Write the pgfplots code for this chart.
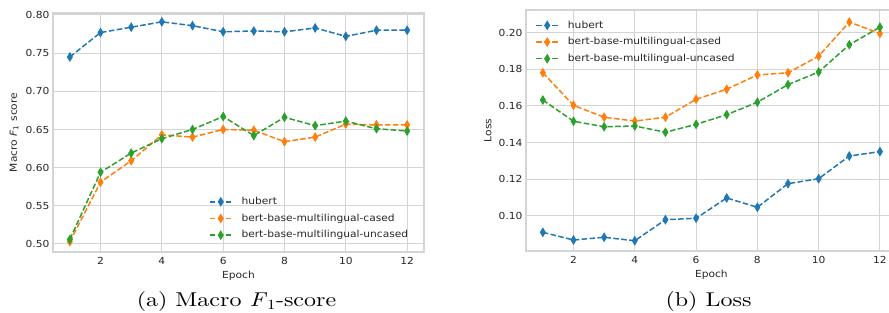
\documentclass[border=0pt]{standalone}
\usepackage{pgfplots}
\pgfplotsset{compat=1.18}
\usepackage{fontspec}
\newfontfamily\dejavu{DejaVu Sans}[FakeStretch=1.1]
\newfontfamily\capfont{lmroman10-regular.otf}[ItalicFont=lmroman10-italic.otf, FakeStretch=1.2]
\definecolor{tabblue}{HTML}{1F77B4}
\definecolor{taborange}{HTML}{FF7F0E}
\definecolor{tabgreen}{HTML}{2CA02C}
\definecolor{gridc}{HTML}{D4D4D4}
\definecolor{tickc}{HTML}{262626}
\newcommand{\sfont}{\dejavu\fontsize{9.7}{11}\selectfont}
\pgfplotsset{
  mystyle/.style={
    scale only axis,
    xmin=0.45, xmax=12.55,
    xtick={2,4,6,8,10,12},
    grid=major,
    major grid style={gridc, line width=1pt},
    axis line style={gridc, line width=1.25pt},
    major tick length=0pt,
    tick style={draw=none},
    /pgf/number format/assume math mode=true,
    ticklabel style={font=\sfont, text=tickc},
    xticklabel style={yshift=-1.5pt},
    label style={font=\sfont, text=tickc},
    xlabel style={at={(axis description cs:0.5,-0.1)}, anchor=center},
    legend style={draw=none, fill=none, font=\sfont, text=tickc, inner sep=0pt,
      row sep=5.2pt, column sep=8pt, nodes={inner sep=1pt, text height=7.5pt, text depth=2pt}},
    legend cell align=left,
    legend image code/.code={\draw[mark repeat=2,mark phase=2] plot coordinates {(0pt,0pt) (11pt,0pt) (22pt,0pt)};},
    every axis plot/.append style={line width=1.5pt, dash pattern=on 5.55pt off 2.4pt,
      mark=diamond*, mark size=4.2pt, mark options={solid, line width=0.8pt, xscale=0.8}},
  }
}
\begin{document}
\begin{tikzpicture}
\useasboundingbox (0,0) rectangle (889pt,313pt);
\begin{axis}[mystyle,
  at={(53pt,61pt)}, anchor=south west, width=371pt, height=239pt,
  ymin=0.4895, ymax=0.8026,
  ytick={0.50,0.55,0.60,0.65,0.70,0.75,0.80},
  yticklabel style={/pgf/number format/.cd, fixed, fixed zerofill, precision=2},
  xlabel={Epoch},
  ylabel={Macro \textit{F}\textsubscript{1} score},
  ylabel style={at={(axis description cs:-0.105,0.5)}, anchor=center},
  legend style={at={(axis description cs:0.42,0.235)}, anchor=north west},
]
\addplot[tabblue] coordinates {(1,0.745)(2,0.777)(3,0.784)(4,0.791)(5,0.786)(6,0.778)(7,0.779)(8,0.778)(9,0.783)(10,0.772)(11,0.780)(12,0.780)};
\addlegendentry{hubert}
\addplot[taborange] coordinates {(1,0.503)(2,0.581)(3,0.609)(4,0.643)(5,0.640)(6,0.650)(7,0.649)(8,0.634)(9,0.640)(10,0.657)(11,0.656)(12,0.656)};
\addlegendentry{bert-base-multilingual-cased}
\addplot[tabgreen] coordinates {(1,0.506)(2,0.594)(3,0.619)(4,0.638)(5,0.650)(6,0.667)(7,0.642)(8,0.666)(9,0.655)(10,0.661)(11,0.651)(12,0.648)};
\addlegendentry{bert-base-multilingual-uncased}
\end{axis}
\begin{axis}[mystyle,
  at={(526pt,62pt)}, anchor=south west, width=370.8pt, height=241pt,
  ymin=0.0807, ymax=0.2124,
  ytick={0.10,0.12,0.14,0.16,0.18,0.20},
  yticklabel style={/pgf/number format/.cd, fixed, fixed zerofill, precision=2},
  xlabel={Epoch},
  ylabel={Loss},
  ylabel style={at={(axis description cs:-0.1025,0.5)}, anchor=center},
  legend style={at={(axis description cs:0.025,0.961)}, anchor=north west},
]
\addplot[tabblue] coordinates {(1,0.0909)(2,0.0867)(3,0.0882)(4,0.0863)(5,0.0978)(6,0.0986)(7,0.1097)(8,0.1046)(9,0.1175)(10,0.1202)(11,0.1326)(12,0.1350)};
\addlegendentry{hubert}
\addplot[taborange] coordinates {(1,0.1781)(2,0.1603)(3,0.1538)(4,0.1517)(5,0.1538)(6,0.1636)(7,0.1691)(8,0.1769)(9,0.1781)(10,0.1872)(11,0.2058)(12,0.1996)};
\addlegendentry{bert-base-multilingual-cased}
\addplot[tabgreen] coordinates {(1,0.1632)(2,0.1516)(3,0.1486)(4,0.1490)(5,0.1456)(6,0.1499)(7,0.1552)(8,0.1620)(9,0.1716)(10,0.1785)(11,0.1934)(12,0.2030)};
\addlegendentry{bert-base-multilingual-uncased}
\end{axis}
\node[anchor=base, font=\capfont\fontsize{20}{24}\selectfont] at (236.5pt,6.3pt) {(a) Macro \textit{F}\textsubscript{1}-score};
\node[anchor=base, font=\capfont\fontsize{20}{24}\selectfont] at (708.5pt,6.3pt) {(b) Loss};
\end{tikzpicture}
\end{document}
